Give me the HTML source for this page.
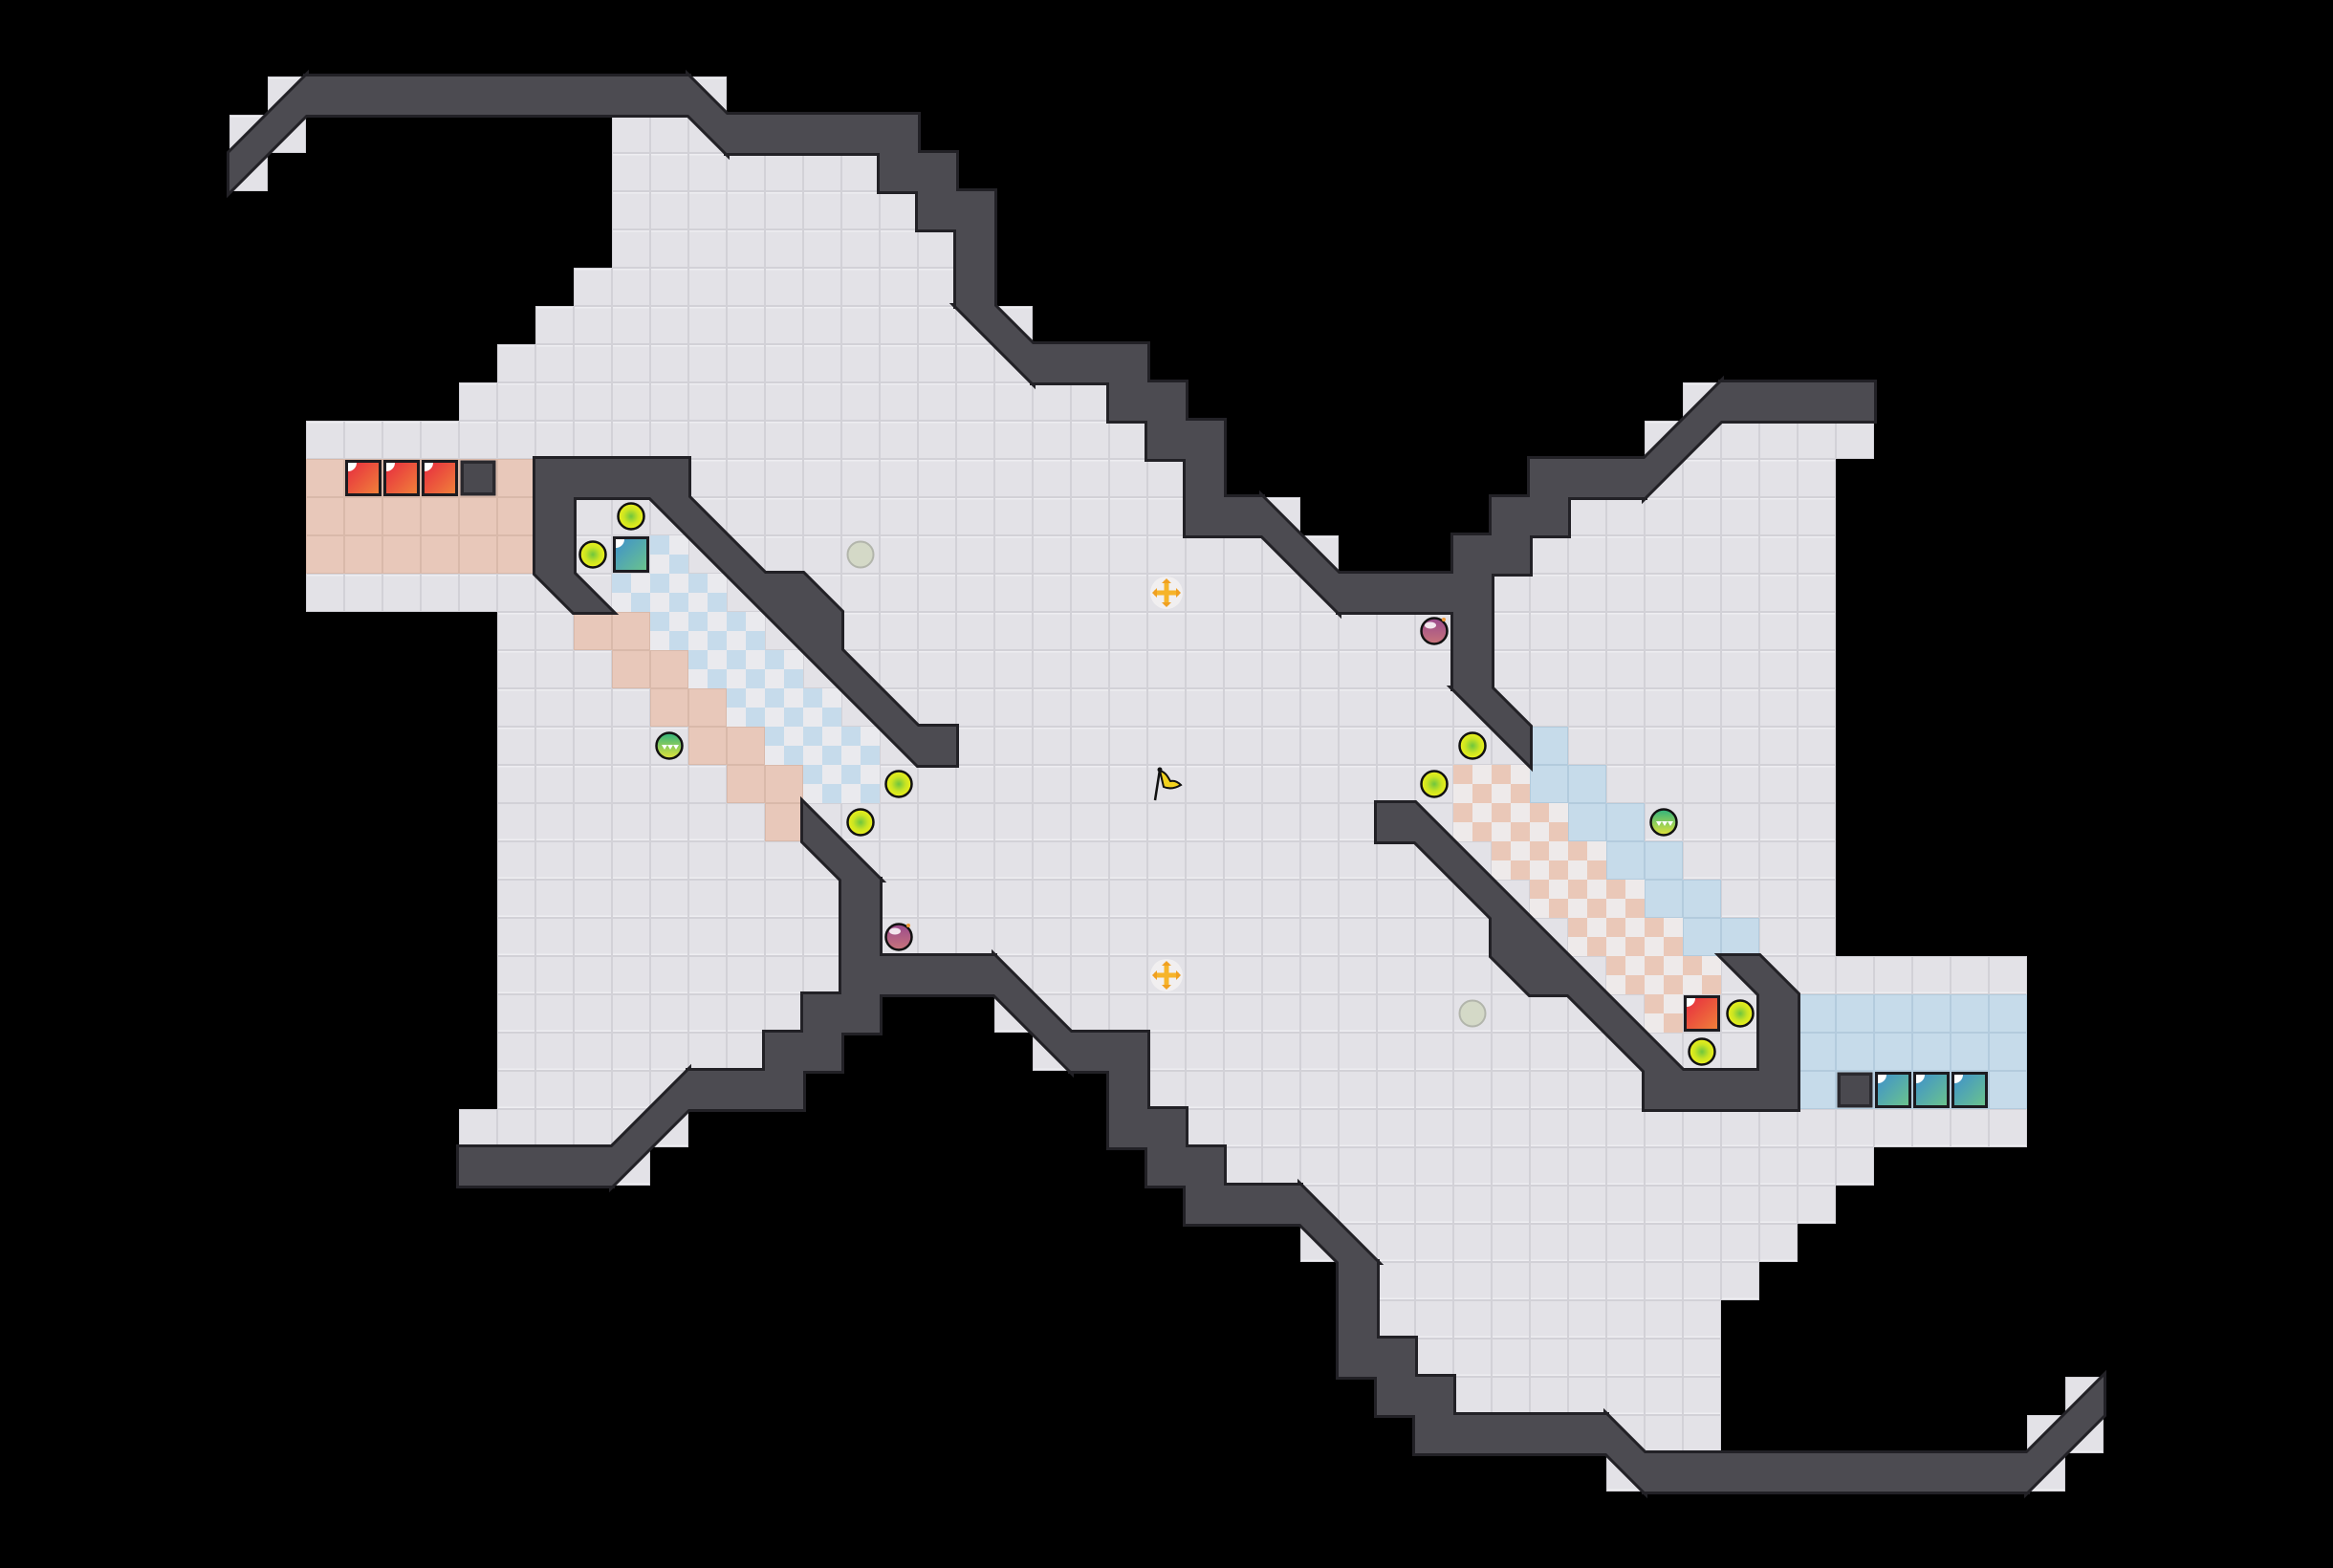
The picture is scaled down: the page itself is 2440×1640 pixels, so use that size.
<!DOCTYPE html>
<html><head><meta charset="utf-8">
<style>html,body{margin:0;padding:0;background:#000;}svg{display:block;}</style>
</head><body>
<svg width="2440" height="1640" viewBox="0 0 2440 1640" xmlns="http://www.w3.org/2000/svg">
<defs>
<pattern id="tile" width="40" height="40" patternUnits="userSpaceOnUse">
<rect width="40" height="40" fill="#d2d1d7"/><rect x="1" y="1" width="38" height="38" fill="#e3e2e7"/><rect x="1" y="1" width="38" height="1.5" fill="#eeedf1"/></pattern>
<pattern id="pinkT" width="40" height="40" patternUnits="userSpaceOnUse">
<rect width="40" height="40" fill="#d9b9aa"/><rect x="1" y="1" width="38" height="38" fill="#e8c8ba"/></pattern>
<pattern id="blueT" width="40" height="40" patternUnits="userSpaceOnUse">
<rect width="40" height="40" fill="#b3cbdd"/><rect x="1" y="1" width="38" height="38" fill="#c6dbea"/></pattern>
<pattern id="chkB" width="40" height="40" patternUnits="userSpaceOnUse">
<rect width="40" height="40" fill="#eaeaee"/><rect width="20" height="20" fill="#c6dbeb"/><rect x="20" y="20" width="20" height="20" fill="#c6dbeb"/></pattern>
<pattern id="chkP" width="40" height="40" patternUnits="userSpaceOnUse">
<rect width="40" height="40" fill="#eeeaea"/><rect width="20" height="20" fill="#eac8b8"/><rect x="20" y="20" width="20" height="20" fill="#eac8b8"/></pattern>
<linearGradient id="gRed" x1="0" y1="0" x2="1" y2="1"><stop offset="0" stop-color="#e6283f"/><stop offset="1" stop-color="#f1843a"/></linearGradient>
<linearGradient id="gTeal" x1="0" y1="0" x2="1" y2="1"><stop offset="0" stop-color="#3d8fcf"/><stop offset="1" stop-color="#6cc58a"/></linearGradient>
<radialGradient id="gy" cx="0.5" cy="0.5" r="0.5"><stop offset="0" stop-color="#6fc63e"/><stop offset="0.55" stop-color="#c9e423"/><stop offset="1" stop-color="#eef11a"/></radialGradient>
<linearGradient id="gp" x1="0" y1="0" x2="0" y2="1"><stop offset="0" stop-color="#9a4a8e"/><stop offset="1" stop-color="#c8747a"/></linearGradient>
<linearGradient id="gg" x1="0" y1="0" x2="0" y2="1"><stop offset="0" stop-color="#2fb27e"/><stop offset="1" stop-color="#e2e43a"/></linearGradient>

<g id="F">
<rect x="280" y="80" width="40" height="40"/><rect x="720" y="80" width="40" height="40"/>
<rect x="240" y="120" width="80" height="40"/><rect x="640" y="120" width="120" height="40"/>
<rect x="240" y="160" width="40" height="40"/><rect x="640" y="160" width="280" height="40"/>
<rect x="640" y="200" width="320" height="40"/>
<rect x="640" y="240" width="360" height="40"/>
<rect x="600" y="280" width="400" height="40"/>
<rect x="560" y="320" width="520" height="40"/>
<rect x="520" y="360" width="560" height="40"/>
<rect x="480" y="400" width="680" height="40"/><rect x="1760" y="400" width="40" height="40"/>
<rect x="320" y="440" width="880" height="40"/><rect x="1720" y="440" width="240" height="40"/>
<rect x="320" y="480" width="920" height="40"/><rect x="1720" y="480" width="200" height="40"/>
<rect x="320" y="520" width="1040" height="40"/><rect x="1640" y="520" width="280" height="40"/>
<rect x="320" y="560" width="1080" height="40"/><rect x="1600" y="560" width="320" height="40"/>
<rect x="320" y="600" width="1600" height="40"/>
<rect x="520" y="640" width="1400" height="160"/>
</g>
<g id="Cs">
<rect x="320" y="480" width="240" height="120"/>
<rect x="600" y="640" width="80" height="40"/><rect x="640" y="680" width="80" height="40"/>
<rect x="680" y="720" width="80" height="40"/><rect x="720" y="760" width="80" height="40"/>
<rect x="760" y="800" width="80" height="40"/><rect x="800" y="840" width="40" height="40"/>
</g>
<g id="Cc">
<rect x="680" y="560" width="40" height="40"/>
<rect x="640" y="600" width="120" height="40"/>
<rect x="680" y="640" width="120" height="40"/>
<rect x="720" y="680" width="120" height="40"/>
<rect x="760" y="720" width="120" height="40"/>
<rect x="800" y="760" width="120" height="40"/>
<rect x="840" y="800" width="80" height="40"/>
</g>
<g id="W">
<polygon points="240,160 320,80 320,120 240,200"/>
<rect x="320" y="80" width="400" height="40"/>
<polygon points="720,80 760,120 760,160 720,120"/>
<rect x="760" y="120" width="200" height="40"/>
<rect x="920" y="160" width="80" height="40"/>
<rect x="960" y="200" width="80" height="40"/>
<rect x="1000" y="240" width="40" height="80"/>
<polygon points="1000,320 1040,320 1080,360 1080,400"/>
<rect x="1080" y="360" width="120" height="40"/>
<rect x="1160" y="400" width="80" height="40"/>
<rect x="1200" y="440" width="80" height="40"/>
<rect x="1240" y="480" width="40" height="40"/>
<rect x="1240" y="520" width="80" height="40"/>
<polygon points="1320,520 1400,600 1400,640 1320,560"/>
<rect x="1400" y="600" width="160" height="40"/>
<rect x="1520" y="560" width="80" height="40"/>
<rect x="1560" y="520" width="80" height="40"/>
<rect x="1600" y="480" width="120" height="40"/>
<polygon points="1720,480 1800,400 1800,440 1720,520"/>
<rect x="1800" y="400" width="160" height="40"/>
<rect x="1520" y="640" width="40" height="80"/>
<polygon points="1520,720 1560,720 1600,760 1600,800"/>
<polygon points="560,480 720,480 720,520 800,600 840,600 880,640 880,680 960,760 1000,760 1000,800 960,800 680,520 600,520 600,600 640,640 600,640 560,600"/>
</g>
<g id="yo"><circle r="13.5" fill="url(#gy)" stroke="#111" stroke-width="2.5"/></g>
<g id="po"><circle r="13.5" fill="url(#gp)" stroke="#111" stroke-width="2.5"/><ellipse cx="-4" cy="-6" rx="6" ry="3.5" fill="#fff" opacity="0.85"/><circle cx="10" cy="-12" r="2" fill="#f09a3a"/></g>
<g id="go"><circle r="13.5" fill="url(#gg)" stroke="#111" stroke-width="2.5"/><path d="M-8,-1 l3,5 l3,-5 z M-2,-1 l3,5 l3,-5 z M4,-1 l3,5 l3,-5 z" fill="#fff"/></g>
<g id="gr"><circle r="13.5" fill="#d4d9c7" stroke="#b2b5ab" stroke-width="2"/></g>
<g id="cr"><circle r="17" fill="#f4f2f3" opacity="0.8"/><rect x="-13" y="-2.5" width="26" height="5" fill="#f6b42a"/><rect x="-2.5" y="-13" width="5" height="26" fill="#f6b42a"/>
<path d="M-15,0 l5,-5 v10 z M15,0 l-5,-5 v10 z M0,-15 l-5,5 h10 z M0,15 l-5,-5 h10 z" fill="#f0a020"/></g>
<g id="rb"><rect x="2.5" y="2.5" width="35" height="35" fill="url(#gRed)" stroke="#1c1b20" stroke-width="3"/><path d="M4,4 h9 A9 9 0 0 1 4,13 z" fill="#fff"/></g>
<g id="tb"><rect x="2.5" y="2.5" width="35" height="35" fill="url(#gTeal)" stroke="#1c1b20" stroke-width="3"/><path d="M4,4 h9 A9 9 0 0 1 4,13 z" fill="#fff"/></g>
<g id="db"><rect x="1.5" y="1.5" width="37" height="37" fill="#2a292e"/><rect x="5" y="5" width="30" height="30" fill="#4a494f"/></g>
</defs>

<rect width="2440" height="1640" fill="#000"/>
<!-- floor -->
<rect x="520" y="800" width="1400" height="40" fill="url(#tile)"/>
<use href="#F" fill="url(#tile)"/>
<use href="#F" fill="url(#tile)" transform="rotate(180 1220 820)"/>
<!-- coloured areas -->
<use href="#Cs" fill="url(#pinkT)"/>
<use href="#Cc" fill="url(#chkB)"/>
<use href="#Cs" fill="url(#blueT)" transform="rotate(180 1220 820)"/>
<use href="#Cc" fill="url(#chkP)" transform="rotate(180 1220 820)"/>
<!-- walls: outline pass then fill pass -->
<use href="#W" fill="#222126" stroke="#222126" stroke-width="6" stroke-linejoin="miter"/>
<use href="#W" fill="#222126" stroke="#222126" stroke-width="6" stroke-linejoin="miter" transform="rotate(180 1220 820)"/>
<use href="#W" fill="#4c4b51"/>
<use href="#W" fill="#4c4b51" transform="rotate(180 1220 820)"/>

<!-- boxes -->
<use href="#rb" x="360" y="480"/><use href="#rb" x="400" y="480"/><use href="#rb" x="440" y="480"/>
<use href="#db" x="480" y="480"/>
<use href="#tb" x="640" y="560"/>
<use href="#db" x="1920" y="1120"/>
<use href="#tb" x="1960" y="1120"/><use href="#tb" x="2000" y="1120"/><use href="#tb" x="2040" y="1120"/>
<use href="#rb" x="1760" y="1040"/>

<!-- items -->
<use href="#yo" x="660" y="540"/><use href="#yo" x="620" y="580"/>
<use href="#yo" x="940" y="820"/><use href="#yo" x="900" y="860"/>
<use href="#yo" x="1540" y="780"/><use href="#yo" x="1500" y="820"/>
<use href="#yo" x="1820" y="1060"/><use href="#yo" x="1780" y="1100"/>
<use href="#gr" x="900" y="580"/><use href="#gr" x="1540" y="1060"/>
<use href="#cr" x="1220" y="620"/><use href="#cr" x="1220" y="1020"/>
<use href="#po" x="1500" y="660"/><use href="#po" x="940" y="980"/>
<use href="#go" x="700" y="780"/><use href="#go" x="1740" y="860"/>
<!-- flag -->
<g transform="translate(1220,820)">
<line x1="-12" y1="17" x2="-7" y2="-15" stroke="#111" stroke-width="2.5"/>
<path d="M-7,-14 C0,-12 2,-6 4,-3 C8,-4 12,-2 15,1 C10,4 4,6 -3,3 Z" fill="#f2d21e" stroke="#111" stroke-width="2"/>
<circle cx="-7" cy="-15" r="2.5" fill="#111"/>
</g>
</svg>
</body></html>
